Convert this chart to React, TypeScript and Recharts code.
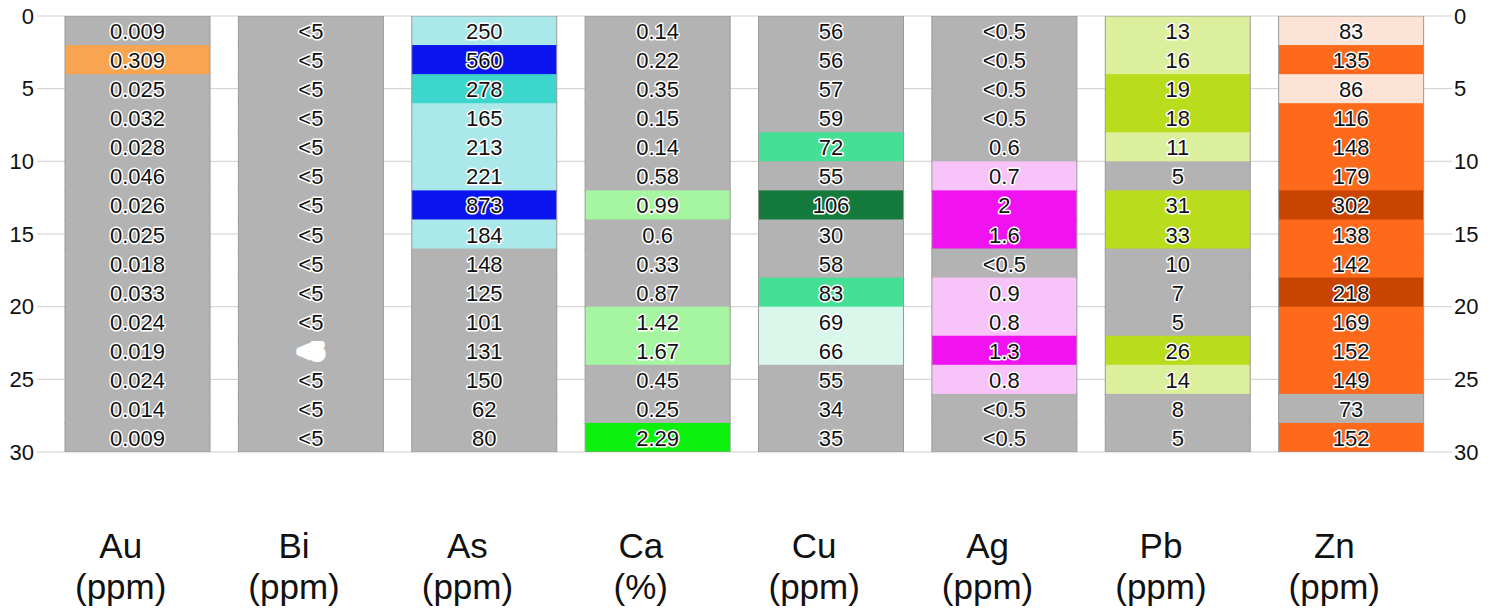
import { Bar, BarChart, CartesianGrid, XAxis, YAxis } from 'recharts';

// interval boundaries down the hole (m)
const DEPTHS = [0, 2, 4, 6, 8, 10, 12, 14, 16, 18, 20, 22, 24, 26, 28, 30];
const DEPTH_TICKS = [0, 5, 10, 15, 20, 25, 30];

const ELEMENTS = ['Au', 'Bi', 'As', 'Ca', 'Cu', 'Ag', 'Pb', 'Zn'];
const UNITS = ['(ppm)', '(ppm)', '(ppm)', '(%)', '(ppm)', '(ppm)', '(ppm)', '(ppm)'];

const AU = ['0.009', '0.309', '0.025', '0.032', '0.028', '0.046', '0.026', '0.025', '0.018', '0.033', '0.024', '0.019', '0.024', '0.014', '0.009'];
const BI = ['<5', '<5', '<5', '<5', '<5', '<5', '<5', '<5', '<5', '<5', '<5', '<5', '<5', '<5', '<5'];
const AS = ['250', '560', '278', '165', '213', '221', '873', '184', '148', '125', '101', '131', '150', '62', '80'];
const CA = ['0.14', '0.22', '0.35', '0.15', '0.14', '0.58', '0.99', '0.6', '0.33', '0.87', '1.42', '1.67', '0.45', '0.25', '2.29'];
const CU = ['56', '56', '57', '59', '72', '55', '106', '30', '58', '83', '69', '66', '55', '34', '35'];
const AG = ['<0.5', '<0.5', '<0.5', '<0.5', '0.6', '0.7', '2', '1.6', '<0.5', '0.9', '0.8', '1.3', '0.8', '<0.5', '<0.5'];
const PB = ['13', '16', '19', '18', '11', '5', '31', '33', '10', '7', '5', '26', '14', '8', '5'];
const ZN = ['83', '135', '86', '116', '148', '179', '302', '138', '142', '218', '169', '152', '149', '73', '152'];

const ASSAYS = [AU, BI, AS, CA, CU, AG, PB, ZN];

const GRAY = '#b3b3b3';
const FONT = '"Liberation Sans", Arial, Helvetica, sans-serif';

const num = (s: string) => (s.startsWith('<') ? 0 : parseFloat(s));

// colour classes per element, picked to match the log
const SCALES: ((v: number) => string)[] = [
  (v) => (v >= 0.1 ? '#f9a451' : GRAY),
  () => GRAY,
  (v) => (v >= 500 ? '#0a14ee' : v >= 270 ? '#3dd6cc' : v >= 160 ? '#aae8ea' : GRAY),
  (v) => (v >= 2 ? '#0ef00e' : v >= 0.9 ? '#a6f5a0' : GRAY),
  (v) => (v >= 100 ? '#137a3c' : v >= 70 ? '#45e095' : v >= 65 ? '#d9f7ea' : GRAY),
  (v) => (v >= 1 ? '#f012f0' : v >= 0.7 ? '#f8c3f8' : GRAY),
  (v) => (v >= 18 ? '#b9dd1c' : v >= 11 ? '#dcef9c' : GRAY),
  (v) => (v >= 200 ? '#c84400' : v >= 100 ? '#fd6a1c' : v >= 80 ? '#fde3d5' : GRAY),
];

const data = ELEMENTS.map((name, c) => {
  const row: Record<string, string | number> = { name, unit: UNITS[c] };
  DEPTHS.slice(1).forEach((d, i) => {
    row[`s${i}`] = d - DEPTHS[i];
  });
  return row;
});

const intervals = DEPTHS.slice(1).map((_, i) => i);
const last = intervals.length - 1;

function cellShape(i: number) {
  return (props: any) => {
    const c = ELEMENTS.indexOf(props.payload?.name ?? props.name);
    const col = c >= 0 ? c : props.index;
    const label = ASSAYS[col][i];
    const x = props.x;
    const w = props.width;
    const y = Math.min(props.y, props.y + props.height);
    const h = Math.abs(props.height);
    // overlap into the next cell so no seam shows between stacked rects
    const pad = i === last ? 0 : 1;
    // one Bi label is smudged white in the source
    const smudged = col === 1 && i === 11;
    return (
      <g>
        <rect x={x} y={y} width={w} height={h + pad} fill={SCALES[col](num(label))} />
        <line x1={x} x2={x} y1={y} y2={y + h + pad} stroke="#9a9a9a" strokeWidth={1} />
        <line x1={x + w} x2={x + w} y1={y} y2={y + h + pad} stroke="#9a9a9a" strokeWidth={1} />
        {i === 0 && <line x1={x} x2={x + w} y1={y} y2={y} stroke="#9a9a9a" strokeWidth={1} />}
        {i === last && <line x1={x} x2={x + w} y1={y + h} y2={y + h} stroke="#9a9a9a" strokeWidth={1} />}
        <text
          x={x + w / 2}
          y={y + h / 2 + 1}
          textAnchor="middle"
          dominantBaseline="central"
          fontFamily={FONT}
          fontSize={22}
          fill={smudged ? '#ffffff' : '#111111'}
          stroke="#ffffff"
          strokeWidth={smudged ? 6 : 3}
          strokeLinejoin="round"
          paintOrder="stroke"
        >
          {label}
        </text>
      </g>
    );
  };
}

function ElementTick(props: any) {
  const { x, y, payload } = props;
  const c = ELEMENTS.indexOf(payload.value);
  const cx = x - 17;
  return (
    <text x={cx} textAnchor="middle" fontFamily={FONT} fontSize={35} fill="#111111">
      <tspan x={cx} y={y + 106}>{payload.value}</tspan>
      <tspan x={cx} y={y + 147}>{UNITS[c]}</tspan>
    </text>
  );
}

const depthTick = { fill: '#111111', fontSize: 22, fontFamily: FONT };

export default function App() {
  return (
    <div style={{ position: 'absolute', left: 0, top: 0, background: '#fff' }}>
      <BarChart
        width={1496}
        height={614}
        data={data}
        margin={{ top: 16, right: 0, bottom: 32, left: 0 }}
        barSize={145}
      >
        <CartesianGrid yAxisId="left" vertical={false} stroke="#cfcfcf" />
        <XAxis
          dataKey="name"
          height={130}
          axisLine={false}
          tickLine={false}
          tickSize={0}
          tickMargin={0}
          interval={0}
          tick={<ElementTick />}
        />
        <YAxis
          yAxisId="left"
          width={51}
          domain={[0, 30]}
          reversed
          ticks={DEPTH_TICKS}
          allowDataOverflow
          axisLine={false}
          tickSize={14}
          tickMargin={3}
          tickLine={{ stroke: '#cfcfcf' }}
          tick={depthTick}
        />
        <YAxis
          yAxisId="right"
          orientation="right"
          width={58}
          domain={[0, 30]}
          reversed
          ticks={DEPTH_TICKS}
          allowDataOverflow
          axisLine={false}
          tickSize={14}
          tickMargin={2}
          tickLine={{ stroke: '#cfcfcf' }}
          tick={depthTick}
        />
        {intervals.map((i) => (
          <Bar
            key={i}
            yAxisId="left"
            dataKey={`s${i}`}
            stackId="log"
            isAnimationActive={false}
            shape={cellShape(i)}
          />
        ))}
      </BarChart>
    </div>
  );
}
